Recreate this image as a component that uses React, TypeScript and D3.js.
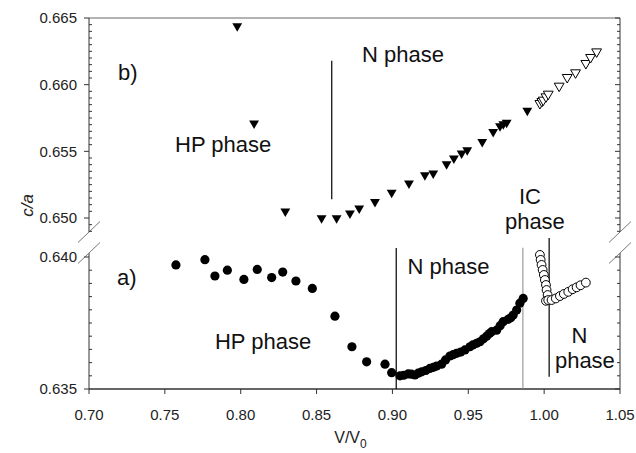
import * as d3 from 'd3'

// panel b) : filled and open down-triangles, upper axis segment
const bFilled: [number, number][] = [
  [0.7977, 0.6644], [0.8088, 0.6571], [0.8294, 0.6505], [0.8533, 0.6500],
  [0.8632, 0.6500], [0.8720, 0.65035], [0.8781, 0.65073], [0.8885, 0.65122],
  [0.8995, 0.6519], [0.9109, 0.6526], [0.9214, 0.65322], [0.9269, 0.65335],
  [0.9357, 0.65405], [0.9405, 0.65448], [0.9456, 0.65485], [0.9493, 0.6551],
  [0.9592, 0.65572], [0.9664, 0.65647], [0.9709, 0.6569], [0.9731, 0.65705],
  [0.9753, 0.65715], [0.9889, 0.65805]
]
const bOpen: [number, number][] = [
  [0.9972, 0.6586], [0.9985, 0.65875], [0.9994, 0.65885], [1.0012, 0.6591],
  [1.0027, 0.6593], [1.0099, 0.6599], [1.0152, 0.66055], [1.0207, 0.6609],
  [1.0275, 0.6616], [1.0306, 0.66205], [1.0346, 0.66247]
]

// panel a) : filled and open circles, lower axis segment
const aFilled: [number, number][] = [
  [0.7573, 0.6397], [0.7764, 0.6399], [0.7830, 0.63928], [0.7912, 0.6395],
  [0.8021, 0.63915], [0.8109, 0.63953], [0.8204, 0.63922], [0.8277, 0.63943],
  [0.8364, 0.63909], [0.8472, 0.63881], [0.8621, 0.63776], [0.8733, 0.6366],
  [0.8830, 0.63603], [0.8951, 0.63594], [0.8995, 0.63562], [0.9050, 0.6355],
  [0.9075, 0.63552], [0.9104, 0.63557], [0.9125, 0.63556], [0.9148, 0.63553],
  [0.9170, 0.6356], [0.9193, 0.63565], [0.9220, 0.6357], [0.9247, 0.63578],
  [0.9270, 0.63582], [0.9291, 0.63587], [0.9324, 0.63594], [0.9350, 0.6361],
  [0.9379, 0.63625], [0.9400, 0.6363], [0.9423, 0.63635], [0.9450, 0.6364],
  [0.9478, 0.63648], [0.9511, 0.6366], [0.9530, 0.63667], [0.9555, 0.63673],
  [0.9577, 0.63679], [0.9600, 0.6369], [0.9621, 0.637], [0.9640, 0.6371],
  [0.9654, 0.63717], [0.9687, 0.63723], [0.9710, 0.6374], [0.9730, 0.63755],
  [0.9763, 0.63764], [0.9780, 0.6377], [0.9796, 0.6378], [0.9819, 0.63799],
  [0.9840, 0.63825], [0.9862, 0.63843]
]
const aOpen: [number, number][] = [
  [0.9972, 0.64008], [0.9977, 0.63989], [0.9983, 0.6397], [0.9990, 0.63951],
  [0.9998, 0.63932], [1.0005, 0.63913], [1.0012, 0.63894], [1.0016, 0.63875],
  [1.0023, 0.63856], [1.0012, 0.63834], [1.0027, 0.63837],
  [1.0049, 0.63837], [1.0077, 0.63843], [1.0104, 0.63852], [1.0130, 0.6386],
  [1.0159, 0.63868], [1.0188, 0.63878], [1.0214, 0.63885], [1.0240, 0.63893],
  [1.0275, 0.63903]
]

const xTicks = [0.70, 0.75, 0.80, 0.85, 0.90, 0.95, 1.00, 1.05]
const yTopTicks = [0.650, 0.655, 0.660, 0.665]
const yBotTicks = [0.635, 0.640]

// phase boundaries: [V/V0, c/a from, c/a to]
const bBoundary = [0.86, 0.6514, 0.6618]
const aBoundaries = [
  [0.9025, 0.635, 0.64034],
  [0.986, 0.635, 0.64035],
  [1.0033, 0.63546, 0.64072]
]

const W = 636
const H = 453

export default function App() {
  const x = d3.scaleLinear().domain([0.70, 1.05]).range([89, 620])
  const yTop = d3.scaleLinear().domain([0.650, 0.665]).range([218, 18])
  const yBot = d3.scaleLinear().domain([0.635, 0.640]).range([389, 257])

  const x0 = x.range()[0]
  const x1 = x.range()[1]
  const topEnd = yTop(0.650) + 14
  const botStart = yBot(0.640) - 4
  const axisCol = '#333'
  const font = '"Liberation Sans", Arial, sans-serif'

  const tri = d3.symbol().type(d3.symbolTriangle).size(42)()

  const topMinor = d3.range(0, 33).map(i => 0.649 + i * 0.0005).filter(v => yTop(v) <= topEnd + 0.5)
  const botMinor = d3.range(0, 11).map(i => 0.635 + i * 0.0005)

  const breakMark = (cx: number, cy: number, key: string) => (
    <line key={key} x1={cx - 11} y1={cy + 10.5} x2={cx + 11} y2={cy - 10.5} stroke="#777" strokeWidth={1} />
  )

  const fx = d3.format('.2f')
  const fy = d3.format('.3f')

  return (
    <svg width={W} height={H} style={{ position: 'absolute', left: 0, top: 0, background: '#fff' }} fontFamily={font}>
      {/* frame */}
      <line x1={x0} x2={x1} y1={yTop.range()[1]} y2={yTop.range()[1]} stroke="#666" />
      <line x1={x0} x2={x1} y1={yBot.range()[0]} y2={yBot.range()[0]} stroke={axisCol} strokeWidth={1.3} />
      {[x0, x1].map(ax => (
        <g key={ax}>
          <line x1={ax} x2={ax} y1={yTop.range()[1]} y2={topEnd} stroke={axisCol} />
          <line x1={ax} x2={ax} y1={botStart} y2={yBot.range()[0]} stroke={axisCol} />
          {breakMark(ax, topEnd, 'a')}
          {breakMark(ax, botStart, 'b')}
        </g>
      ))}

      {/* y ticks left + right */}
      {topMinor.map(v => {
        const major = yTopTicks.some(t => Math.abs(t - v) < 1e-6)
        const yy = yTop(v)
        return (
          <g key={'tm' + v}>
            <line x1={major ? x0 - 5 : x0} x2={major ? x0 : x0 + 3} y1={yy} y2={yy} stroke={axisCol} />
            <line x1={x1 - (major ? 5 : 3)} x2={x1} y1={yy} y2={yy} stroke={axisCol} />
          </g>
        )
      })}
      {botMinor.map(v => {
        const major = yBotTicks.some(t => Math.abs(t - v) < 1e-6)
        const yy = yBot(v)
        return (
          <g key={'bm' + v}>
            <line x1={major ? x0 - 5 : x0} x2={major ? x0 : x0 + 3} y1={yy} y2={yy} stroke={axisCol} />
            <line x1={x1 - (major ? 5 : 3)} x2={x1} y1={yy} y2={yy} stroke={axisCol} />
          </g>
        )
      })}
      {yTopTicks.map(t => (
        <text key={'yt' + t} x={x0 - 12} y={yTop(t)} dy="0.35em" textAnchor="end" fontSize={15} fill="#222">{fy(t)}</text>
      ))}
      {yBotTicks.map(t => (
        <text key={'yb' + t} x={x0 - 12} y={yBot(t)} dy="0.35em" textAnchor="end" fontSize={15} fill="#222">{fy(t)}</text>
      ))}

      {/* x ticks */}
      {xTicks.map(t => (
        <g key={'xt' + t}>
          <line x1={x(t)} x2={x(t)} y1={yBot.range()[0]} y2={yBot.range()[0] + 5} stroke={axisCol} />
          <text x={x(t)} y={420} textAnchor="middle" fontSize={15} fill="#222">{fx(t)}</text>
        </g>
      ))}

      {/* axis titles */}
      <text x={x((0.70 + 1.05) / 2) - 4} y={443} textAnchor="middle" fontSize={16} fill="#222">
        V/V<tspan fontSize={12} dy={5}>0</tspan>
      </text>
      <text transform={`translate(33,${(yTop(0.650) + yBot(0.640)) / 2 - 32}) rotate(-90)`} textAnchor="middle" fontSize={17} fontStyle="italic" fill="#222">c/a</text>

      {/* phase boundaries */}
      <line x1={x(bBoundary[0])} x2={x(bBoundary[0])} y1={yTop(bBoundary[1])} y2={yTop(bBoundary[2])} stroke="#000" strokeWidth={1.2} />
      {aBoundaries.map((b, i) => (
        <line key={'ab' + i} x1={x(b[0])} x2={x(b[0])} y1={yBot(b[1])} y2={yBot(b[2])}
          stroke={i === 1 ? '#888' : '#000'} strokeWidth={i === 1 ? 1 : 1.2} />
      ))}

      {/* data */}
      {bFilled.map((d, i) => (
        <path key={'bf' + i} d={tri!} transform={`translate(${x(d[0])},${yTop(d[1])}) rotate(180)`} fill="#000" />
      ))}
      {bOpen.map((d, i) => (
        <path key={'bo' + i} d={tri!} transform={`translate(${x(d[0])},${yTop(d[1])}) rotate(180)`} fill="#fff" stroke="#000" strokeWidth={1} />
      ))}
      {aFilled.map((d, i) => (
        <circle key={'af' + i} cx={x(d[0])} cy={yBot(d[1])} r={4.6} fill="#000" />
      ))}
      {aOpen.map((d, i) => (
        <circle key={'ao' + i} cx={x(d[0])} cy={yBot(d[1])} r={4.4} fill="#fff" stroke="#000" strokeWidth={1} />
      ))}

      {/* annotations */}
      <g fontSize={22} fill="#111">
        <text x={x(0.7191)} y={yTop(0.66035)}>b)</text>
        <text x={x(0.8799)} y={yTop(0.6617)}>N phase</text>
        <text x={x(0.7567)} y={yTop(0.65497)}>HP phase</text>
        <text x={x(0.7185)} y={yBot(0.63894)}>a)</text>
        <text x={x(0.7830)} y={yBot(0.63651)}>HP phase</text>
        <text x={x(0.9100)} y={yBot(0.63936)}>N phase</text>
        <text x={x(0.9906)} y={yTop(0.65105)} textAnchor="middle">IC</text>
        <text x={x(0.9939)} y={yTop(0.64918)} textAnchor="middle">phase</text>
        <text x={x(1.0181)} y={yBot(0.63673)}>N</text>
        <text x={x(1.0071)} y={yBot(0.63579)}>phase</text>
      </g>
    </svg>
  )
}
